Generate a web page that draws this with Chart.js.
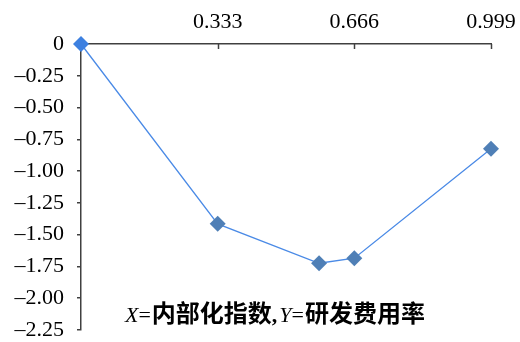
<!DOCTYPE html>
<html>
<head>
<meta charset="utf-8">
<script src="https://cdn.jsdelivr.net/npm/chart.js@4.4.1/dist/chart.umd.min.js"></script>
<style>
  html, body { margin: 0; padding: 0; background: #fff; }
  #wrap { width: 520px; height: 342px; position: relative; }
</style>
</head>
<body>
<div id="wrap"><canvas id="chart"></canvas></div>
<script>
// ---- data ----
const xValues = [0, 0.333, 0.58, 0.666, 0.999];
const yValues = [0, -1.415, -1.725, -1.685, -0.825];
const xTicks = [0.333, 0.666, 0.999];
const yMin = -2.25, yMax = 0, yStep = 0.25;
const noteParts = [
  { t: "X", f: "italic 22px 'Liberation Serif'" },
  { t: "=", f: "22px 'Liberation Serif'", after: 1 },
  { t: "内部化指数", f: "bold 24px 'Noto Sans CJK SC'" },
  { t: ",", f: "bold 22px 'Liberation Serif'", after: 2 },
  { t: "Y", f: "italic 22px 'Liberation Serif'" },
  { t: "=", f: "22px 'Liberation Serif'", after: 1 },
  { t: "研发费用率", f: "bold 24px 'Noto Sans CJK SC'" }
];

const AXIS = "#404040";
const SERIF = "'Liberation Serif', serif";

function fmtY(v) {
  if (Math.abs(v) < 1e-9) return "0";
  return "\u2013" + Math.abs(v).toFixed(2);
}

// inward tick marks on the top x axis + the note text
const extras = {
  id: "extras",
  beforeDatasetsDraw(chart) {
    const ctx = chart.ctx, xs = chart.scales.x, top = chart.chartArea.top;
    ctx.save();
    ctx.strokeStyle = AXIS;
    ctx.lineWidth = 1.5;
    xTicks.forEach(v => {
      const px = Math.round(xs.getPixelForValue(v)) + 0.5;
      ctx.beginPath();
      ctx.moveTo(px, top);
      ctx.lineTo(px, top + 5);
      ctx.stroke();
    });
    ctx.restore();
  },
  afterDraw(chart) {
    const ctx = chart.ctx;
    ctx.save();
    ctx.fillStyle = "#000";
    ctx.textBaseline = "alphabetic";
    let x = 125;
    const y = 322;
    noteParts.forEach(p => {
      ctx.font = p.f;
      ctx.fillText(p.t, x, y);
      x += ctx.measureText(p.t).width + (p.after || 0);
    });
    ctx.restore();
  }
};

new Chart(document.getElementById("chart"), {
  type: "line",
  data: {
    datasets: [{
      data: xValues.map((x, i) => ({ x, y: yValues[i] })),
      borderColor: "#4a8ae6",
      borderWidth: 1.3,
      pointStyle: "rectRot",
      pointRadius: 8,
      pointHoverRadius: 8,
      pointBorderWidth: 0,
      pointBackgroundColor: ["#3d80e0", "#4f7fb6", "#4f7fb6", "#4f7fb6", "#4f7fb6"],
      tension: 0,
      clip: false
    }]
  },
  options: {
    responsive: true,
    maintainAspectRatio: false,
    animation: false,
    events: [],
    layout: { padding: { top: 0, right: 29, bottom: 12, left: 0 } },
    plugins: { legend: { display: false }, tooltip: { enabled: false } },
    scales: {
      x: {
        type: "linear",
        position: "top",
        min: 0,
        max: 0.999,
        afterBuildTicks: s => { s.ticks = xTicks.map(v => ({ value: v })); },
        afterFit: s => { s.height = 44; s.paddingLeft = 0; s.paddingRight = 0; },
        grid: { drawOnChartArea: false, drawTicks: false },
        border: { color: AXIS, width: 1.5 },
        ticks: {
          color: "#000",
          font: { family: SERIF, size: 22 },
          padding: 9,
          maxRotation: 0,
          callback: v => v.toFixed(3)
        }
      },
      y: {
        min: yMin,
        max: yMax,
        afterFit: s => { s.width = 81; s.paddingTop = 0; s.paddingBottom = 0; },
        grid: { drawOnChartArea: false, drawTicks: true, tickLength: 4, color: AXIS, lineWidth: 1.5 },
        border: { color: AXIS, width: 1.5 },
        ticks: {
          stepSize: yStep,
          color: "#000",
          font: { family: SERIF, size: 22 },
          padding: 13,
          callback: v => fmtY(v)
        }
      }
    }
  },
  plugins: [extras]
});
</script>
</body>
</html>
